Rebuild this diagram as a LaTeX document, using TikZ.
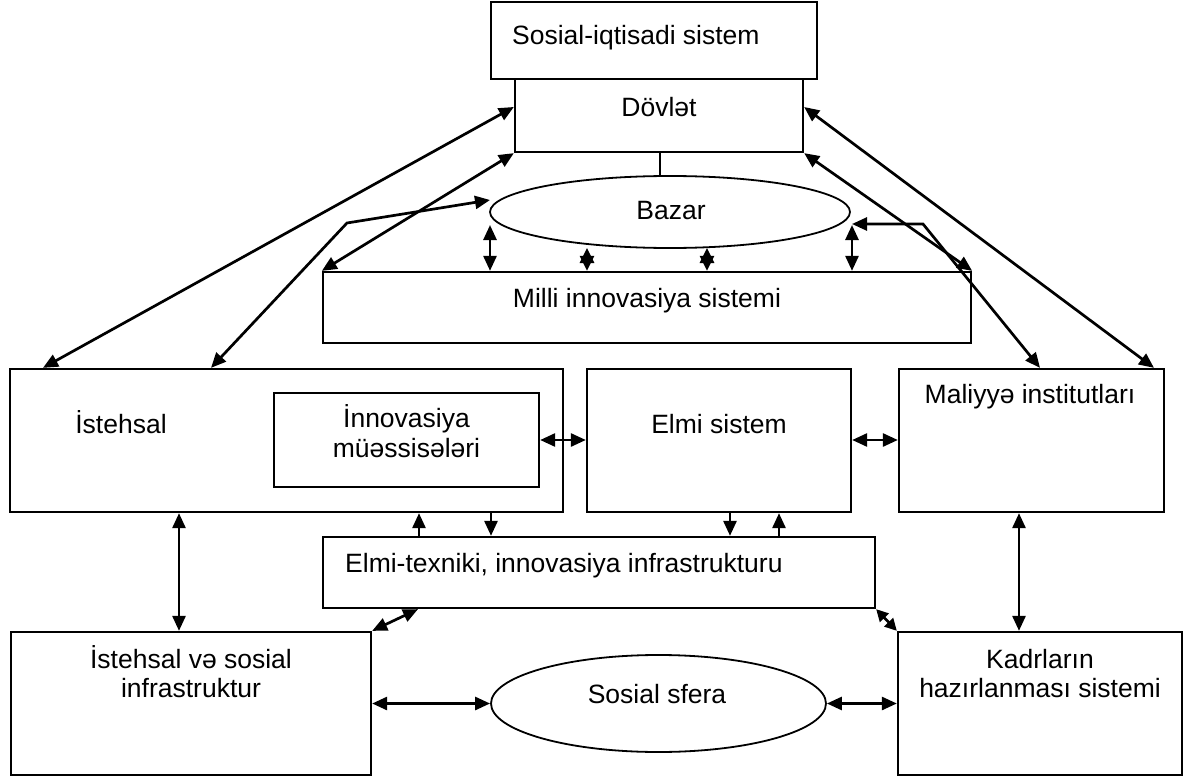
\documentclass[tikz,border=0pt]{standalone}
\usepackage{fontspec}
\setmainfont{Liberation Sans}
\usetikzlibrary{arrows.meta,shapes.geometric}
\tikzset{
  box/.style={draw, line width=2.3pt, inner sep=0pt, rectangle},
  oval/.style={draw, line width=1.8pt, ellipse, inner sep=0pt},
  lbl/.style={inner sep=0pt, font=\fontsize{26.5}{31}\selectfont, anchor=base},
  tip/.tip={Triangle[length=15pt,width=13pt]},
  stip/.tip={Triangle[length=12pt,width=12pt]},
  startip/.tip={Triangle[length=15pt,width=14pt]},
  dbl/.style={line width=2.7pt, tip-tip},
  sdbl/.style={line width=2.7pt, stip-stip},
  stardbl/.style={line width=2.7pt, startip-startip},
  sgl/.style={line width=2.7pt, -tip},
  plain/.style={line width=2.3pt},
}
\begin{document}
\begin{tikzpicture}[x=1pt,y=-1pt]
\fill[white] (0,0) rectangle (1192,776);
\useasboundingbox (0,0) rectangle (1192,776);
% boxes
\node[box, minimum width=326pt, minimum height=77pt] (sos) at (654,40.5) {};
\node[box, fill=white, minimum width=288pt, minimum height=73pt] (dov) at (659,115.5) {};
\node[oval, minimum width=360pt, minimum height=72pt] (bazar) at (670,212) {};
\node[box, minimum width=648pt, minimum height=71pt] (milli) at (647,307.5) {};
\node[box, minimum width=553pt, minimum height=143pt] (ist) at (286.5,440.5) {};
\node[box, minimum width=265pt, minimum height=94pt] (inn) at (406.5,440) {};
\node[box, minimum width=264pt, minimum height=143pt] (elmi) at (719,440.5) {};
\node[box, minimum width=265pt, minimum height=143pt] (mal) at (1031.5,440.5) {};
\node[box, minimum width=552pt, minimum height=71pt] (etx) at (599,572.5) {};
\node[box, minimum width=360pt, minimum height=143pt] (isi) at (191,703.5) {};
\node[oval, minimum width=335pt, minimum height=97pt] (sfera) at (658.5,703.5) {};
\node[box, minimum width=284pt, minimum height=143pt] (kad) at (1040,703.5) {};
% texts
\node[lbl, anchor=base west] (t-sos) at (512,45) {Sosial-iqtisadi sistem};
\node[lbl] (t-dov) at (659,117) {Dövlət};
\node[lbl] (t-bazar) at (671,219) {Bazar};
\node[lbl] (t-milli) at (647,307) {Milli innovasiya sistemi};
\node[lbl] (t-ist) at (121,433) {İstehsal};
\node[lbl] (t-inn1) at (406.5,427) {İnnovasiya};
\node[lbl] (t-inn2) at (406.5,457) {müəssisələri};
\node[lbl] (t-elmi) at (719,433) {Elmi sistem};
\node[lbl] (t-mal) at (1030,403) {Maliyyə institutları};
\node[lbl, anchor=base west] (t-etx) at (345,572) {Elmi-texniki, innovasiya infrastrukturu};
\node[lbl] (t-isi1) at (191,668) {İstehsal və sosial};
\node[lbl] (t-isi2) at (191,697) {infrastruktur};
\node[lbl] (t-sfera) at (657,703) {Sosial sfera};
\node[lbl] (t-kad1) at (1040,668) {Kadrların};
\node[lbl] (t-kad2) at (1040,697) {hazırlanması sistemi};
% named free points
\coordinate (lk) at (347,223);
\coordinate (rk) at (923,224);
% connectors
\draw[plain] (dov.south -| 660,0) -- (bazar.north -| 660,0);
\draw[dbl] (dov.west |- 0,107) -- (43,0 |- ist.north);
\draw[dbl] (dov.south west) -- (milli.north west);
\draw[dbl] (211,0 |- ist.north) -- (lk) -- (490,200);
\draw[dbl] (dov.east |- 0,107) -- (1154,0 |- mal.north);
\draw[dbl] (dov.south east) -- (milli.north east);
\draw[dbl] (1040,0 |- mal.north) -- (rk) -- (852,224);
\draw[dbl] (490,225) -- (490,0 |- milli.north);
\draw[dbl] (852,225) -- (852,0 |- milli.north);
\draw[stardbl] (587,248) -- (587,0 |- milli.north);
\draw[stardbl] (707,248) -- (707,0 |- milli.north);
\draw[dbl] (inn.east) -- (elmi.west |- inn.east);
\draw[dbl] (elmi.east |- 0,440) -- (mal.west |- 0,440);
\draw[dbl] (179,0 |- ist.south) -- (179,0 |- isi.north);
\draw[dbl] (1019,0 |- mal.south) -- (1019,0 |- kad.north);
\draw[sgl] (419,0 |- etx.north) -- (419,0 |- ist.south);
\draw[sgl] (491,0 |- ist.south) -- (491,0 |- etx.north);
\draw[sgl] (730,0 |- elmi.south) -- (730,0 |- etx.north);
\draw[sgl] (779,0 |- etx.north) -- (779,0 |- elmi.south);
\draw[dbl] (isi.north east) -- (418,0 |- etx.south);
\draw[sdbl] (etx.south east) -- (kad.north west);
\draw[dbl] (isi.east |- sfera.west) -- (sfera.west);
\draw[dbl] (sfera.east) -- (kad.west |- sfera.east);
\end{tikzpicture}
\end{document}
